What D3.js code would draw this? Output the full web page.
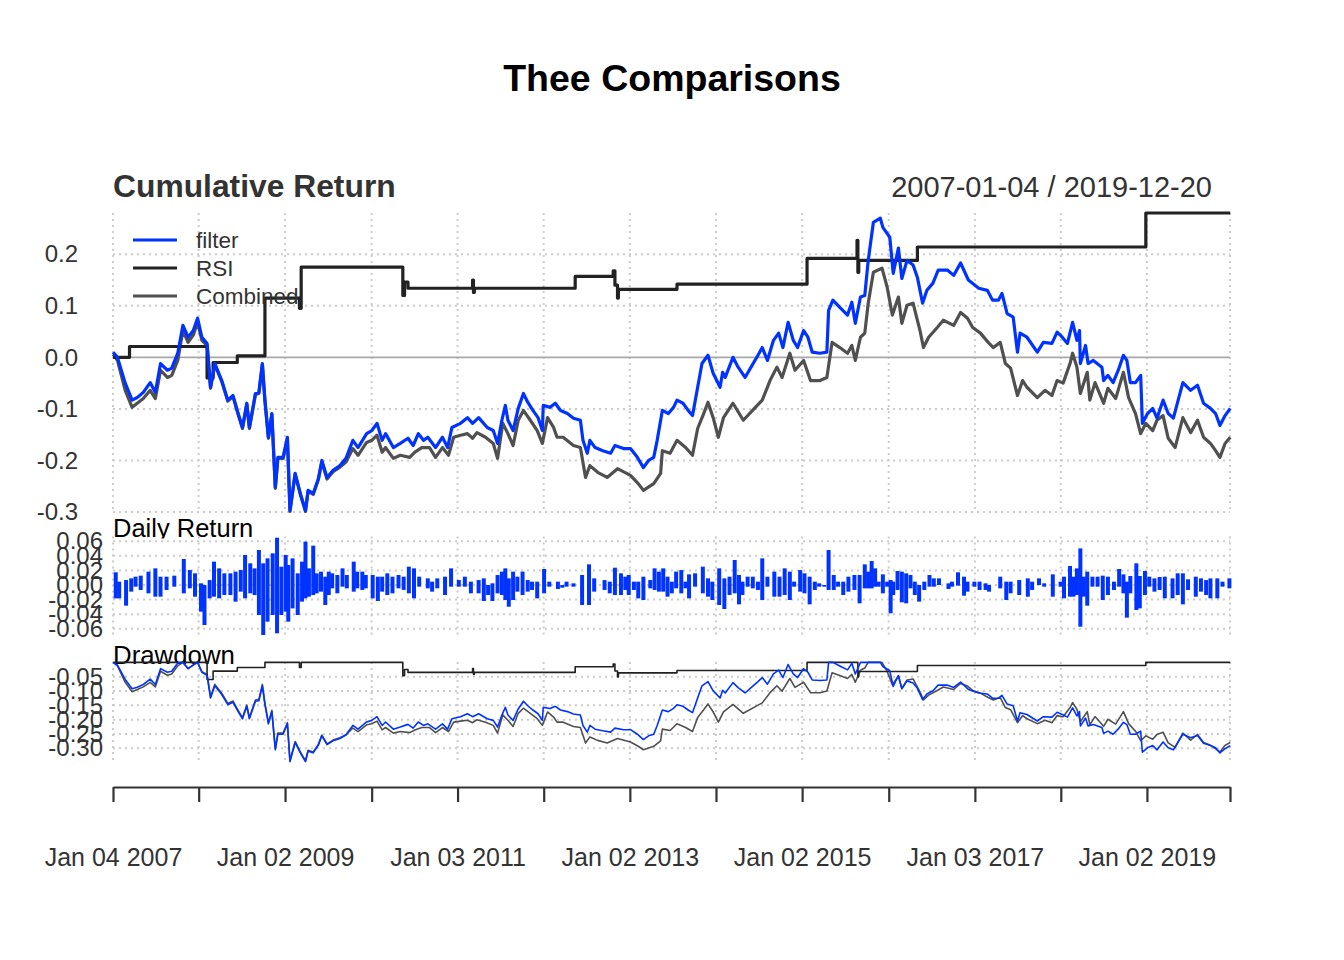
<!DOCTYPE html>
<html><head><meta charset="utf-8">
<script src="https://cdn.jsdelivr.net/npm/d3@7"></script>
<style>
body{margin:0;background:#fff}
svg{display:block}
text{font-family:"Liberation Sans",Arial,Helvetica,sans-serif}
</style>
</head><body>
<svg id="c" width="1344" height="960"></svg>
<script>
// ---------------- DATA ----------------
const chartTitle = "Thee Comparisons";
const seriesNames = ["filter", "RSI", "Combined"];
const seriesColors = ["#0033FF", "#222222", "#505050"];
const startDate = "2007-01-04", endDate = "2019-12-20";
const tickDates = ["2007-01-04","2008-01-02","2009-01-02","2010-01-04","2011-01-03","2012-01-03","2013-01-02","2014-01-02","2015-01-02","2016-01-04","2017-01-03","2018-01-02","2019-01-02","2019-12-20"];
const tickLabels = ["Jan 04 2007","","Jan 02 2009","","Jan 03 2011","","Jan 02 2013","","Jan 02 2015","","Jan 03 2017","","Jan 02 2019",""];
const cumTicks = [0.2, 0.1, 0.0, -0.1, -0.2, -0.3];
const dailyTicks = [0.06, 0.04, 0.02, 0.00, -0.02, -0.04, -0.06];
const ddTicks = [-0.05, -0.10, -0.15, -0.20, -0.25, -0.30];

// cumulative returns [decimal year, value]
const filterCum = [[2007.01,0.010],[2007.06,0.000],[2007.15,-0.050],[2007.23,-0.083],[2007.29,-0.078],[2007.36,-0.068],[2007.44,-0.049],[2007.50,-0.068],[2007.56,-0.012],[2007.64,-0.025],[2007.69,-0.021],[2007.76,0.008],[2007.82,0.062],[2007.88,0.039],[2007.94,0.052],[2007.99,0.076],[2008.04,0.039],[2008.10,0.027],[2008.14,-0.058],[2008.19,-0.012],[2008.27,-0.045],[2008.34,-0.083],[2008.40,-0.074],[2008.46,-0.109],[2008.51,-0.136],[2008.56,-0.089],[2008.59,-0.136],[2008.66,-0.070],[2008.70,-0.068],[2008.74,-0.012],[2008.77,-0.083],[2008.81,-0.155],[2008.85,-0.109],[2008.89,-0.252],[2008.92,-0.194],[2008.98,-0.194],[2009.03,-0.155],[2009.06,-0.297],[2009.12,-0.225],[2009.18,-0.264],[2009.24,-0.297],[2009.27,-0.258],[2009.33,-0.264],[2009.39,-0.235],[2009.43,-0.200],[2009.49,-0.233],[2009.56,-0.219],[2009.64,-0.210],[2009.71,-0.196],[2009.79,-0.161],[2009.85,-0.175],[2009.95,-0.148],[2010.01,-0.142],[2010.07,-0.128],[2010.13,-0.161],[2010.17,-0.148],[2010.26,-0.175],[2010.34,-0.167],[2010.43,-0.157],[2010.49,-0.171],[2010.55,-0.148],[2010.61,-0.161],[2010.66,-0.155],[2010.75,-0.175],[2010.83,-0.155],[2010.89,-0.175],[2010.94,-0.136],[2011.04,-0.128],[2011.12,-0.117],[2011.18,-0.128],[2011.25,-0.117],[2011.35,-0.136],[2011.42,-0.142],[2011.47,-0.167],[2011.52,-0.122],[2011.56,-0.093],[2011.59,-0.122],[2011.65,-0.142],[2011.71,-0.099],[2011.77,-0.070],[2011.82,-0.087],[2011.88,-0.103],[2011.94,-0.117],[2011.99,-0.142],[2012.00,-0.093],[2012.08,-0.097],[2012.14,-0.089],[2012.20,-0.103],[2012.28,-0.109],[2012.35,-0.118],[2012.43,-0.122],[2012.46,-0.161],[2012.51,-0.186],[2012.54,-0.161],[2012.60,-0.175],[2012.69,-0.181],[2012.78,-0.186],[2012.83,-0.171],[2012.93,-0.177],[2013.01,-0.177],[2013.09,-0.194],[2013.16,-0.214],[2013.22,-0.200],[2013.28,-0.194],[2013.32,-0.161],[2013.38,-0.103],[2013.45,-0.109],[2013.51,-0.097],[2013.55,-0.083],[2013.62,-0.089],[2013.68,-0.103],[2013.73,-0.113],[2013.79,-0.058],[2013.84,-0.012],[2013.91,0.004],[2013.97,-0.031],[2014.05,-0.058],[2014.08,-0.029],[2014.11,-0.039],[2014.20,0.000],[2014.26,-0.019],[2014.34,-0.039],[2014.42,-0.016],[2014.49,0.004],[2014.54,0.019],[2014.60,-0.006],[2014.67,0.033],[2014.73,0.047],[2014.78,0.019],[2014.84,0.068],[2014.90,0.033],[2014.95,0.019],[2015.02,0.052],[2015.07,0.039],[2015.12,0.010],[2015.21,0.008],[2015.29,0.010],[2015.31,0.091],[2015.36,0.111],[2015.44,0.097],[2015.53,0.082],[2015.58,0.107],[2015.62,0.066],[2015.68,0.117],[2015.73,0.120],[2015.77,0.188],[2015.83,0.262],[2015.91,0.270],[2015.94,0.252],[2016.02,0.233],[2016.06,0.163],[2016.12,0.212],[2016.16,0.153],[2016.22,0.188],[2016.29,0.179],[2016.34,0.155],[2016.40,0.105],[2016.45,0.130],[2016.52,0.144],[2016.58,0.169],[2016.69,0.169],[2016.76,0.159],[2016.84,0.183],[2016.93,0.150],[2017.05,0.134],[2017.15,0.130],[2017.21,0.111],[2017.28,0.111],[2017.32,0.124],[2017.38,0.085],[2017.45,0.078],[2017.50,0.010],[2017.53,0.047],[2017.61,0.039],[2017.73,0.010],[2017.80,0.029],[2017.90,0.027],[2017.96,0.049],[2018.02,0.039],[2018.08,0.027],[2018.14,0.068],[2018.19,0.033],[2018.22,0.052],[2018.23,-0.012],[2018.29,0.023],[2018.32,-0.012],[2018.38,-0.006],[2018.48,-0.019],[2018.50,-0.045],[2018.55,-0.035],[2018.61,-0.049],[2018.67,-0.025],[2018.73,0.004],[2018.77,-0.006],[2018.81,-0.049],[2018.87,-0.049],[2018.93,-0.035],[2018.95,-0.128],[2019.01,-0.109],[2019.07,-0.099],[2019.12,-0.118],[2019.19,-0.083],[2019.25,-0.109],[2019.31,-0.118],[2019.37,-0.080],[2019.42,-0.049],[2019.51,-0.064],[2019.59,-0.054],[2019.66,-0.089],[2019.74,-0.099],[2019.80,-0.109],[2019.85,-0.132],[2019.91,-0.113],[2019.97,-0.099]];

const rsiCum = [[2007.01,0.000],[2007.20,0.021],[2008.10,-0.040],[2008.17,-0.010],[2008.45,0.003],[2008.77,0.115],[2009.17,0.095],[2009.19,0.175],[2010.37,0.120],[2010.39,0.146],[2010.43,0.134],[2011.18,0.150],[2011.19,0.126],[2011.20,0.134],[2012.37,0.157],[2012.81,0.168],[2012.83,0.140],[2012.86,0.115],[2012.87,0.132],[2013.55,0.142],[2015.06,0.192],[2015.64,0.227],[2015.65,0.165],[2015.66,0.188],[2016.34,0.214],[2018.99,0.280],[2019.97,0.280]];

const combinedCum = [[2007.01,0.006],[2007.06,-0.006],[2007.15,-0.064],[2007.23,-0.097],[2007.29,-0.089],[2007.36,-0.080],[2007.44,-0.064],[2007.50,-0.080],[2007.56,-0.025],[2007.64,-0.039],[2007.69,-0.035],[2007.76,-0.006],[2007.82,0.052],[2007.88,0.029],[2007.94,0.043],[2007.99,0.068],[2008.04,0.033],[2008.10,0.023],[2008.14,-0.060],[2008.19,-0.014],[2008.27,-0.047],[2008.34,-0.085],[2008.40,-0.076],[2008.46,-0.111],[2008.51,-0.138],[2008.56,-0.091],[2008.59,-0.138],[2008.66,-0.072],[2008.70,-0.070],[2008.74,-0.014],[2008.77,-0.085],[2008.81,-0.157],[2008.85,-0.111],[2008.89,-0.254],[2008.92,-0.196],[2008.98,-0.196],[2009.03,-0.157],[2009.06,-0.299],[2009.12,-0.227],[2009.18,-0.266],[2009.24,-0.299],[2009.27,-0.260],[2009.33,-0.266],[2009.39,-0.237],[2009.43,-0.203],[2009.49,-0.236],[2009.56,-0.222],[2009.64,-0.213],[2009.71,-0.203],[2009.79,-0.177],[2009.85,-0.190],[2009.95,-0.165],[2010.01,-0.161],[2010.07,-0.151],[2010.13,-0.184],[2010.17,-0.175],[2010.26,-0.196],[2010.34,-0.190],[2010.45,-0.194],[2010.51,-0.184],[2010.59,-0.175],[2010.68,-0.175],[2010.75,-0.194],[2010.83,-0.175],[2010.90,-0.190],[2010.96,-0.155],[2011.04,-0.151],[2011.12,-0.148],[2011.18,-0.157],[2011.23,-0.146],[2011.33,-0.155],[2011.42,-0.167],[2011.47,-0.196],[2011.53,-0.128],[2011.59,-0.148],[2011.65,-0.171],[2011.71,-0.122],[2011.77,-0.103],[2011.85,-0.122],[2011.93,-0.142],[2011.99,-0.167],[2012.05,-0.117],[2012.12,-0.136],[2012.16,-0.155],[2012.23,-0.155],[2012.35,-0.171],[2012.43,-0.175],[2012.49,-0.233],[2012.54,-0.210],[2012.63,-0.223],[2012.74,-0.233],[2012.86,-0.216],[2013.01,-0.229],[2013.10,-0.245],[2013.16,-0.258],[2013.28,-0.245],[2013.36,-0.225],[2013.38,-0.181],[2013.47,-0.186],[2013.55,-0.161],[2013.65,-0.175],[2013.73,-0.190],[2013.79,-0.138],[2013.86,-0.109],[2013.91,-0.087],[2013.97,-0.117],[2014.03,-0.155],[2014.09,-0.117],[2014.20,-0.089],[2014.32,-0.122],[2014.46,-0.097],[2014.54,-0.083],[2014.63,-0.045],[2014.71,-0.019],[2014.77,-0.039],[2014.86,0.008],[2014.92,-0.025],[2015.02,-0.006],[2015.10,-0.045],[2015.21,-0.045],[2015.29,-0.039],[2015.35,0.029],[2015.44,0.019],[2015.53,0.008],[2015.58,0.023],[2015.62,-0.006],[2015.68,0.039],[2015.73,0.047],[2015.77,0.105],[2015.83,0.165],[2015.93,0.173],[2015.99,0.136],[2016.05,0.082],[2016.12,0.117],[2016.16,0.066],[2016.22,0.101],[2016.29,0.105],[2016.37,0.052],[2016.41,0.019],[2016.47,0.039],[2016.57,0.058],[2016.64,0.072],[2016.76,0.062],[2016.84,0.087],[2016.92,0.076],[2016.98,0.058],[2017.07,0.047],[2017.16,0.029],[2017.22,0.019],[2017.30,0.029],[2017.36,-0.012],[2017.42,-0.021],[2017.50,-0.074],[2017.56,-0.045],[2017.61,-0.058],[2017.73,-0.078],[2017.82,-0.064],[2017.90,-0.074],[2017.96,-0.045],[2018.03,-0.050],[2018.11,-0.012],[2018.14,0.008],[2018.19,-0.019],[2018.23,-0.070],[2018.31,-0.029],[2018.34,-0.083],[2018.40,-0.049],[2018.50,-0.089],[2018.55,-0.060],[2018.64,-0.080],[2018.73,-0.029],[2018.79,-0.078],[2018.87,-0.109],[2018.93,-0.148],[2018.99,-0.128],[2019.07,-0.142],[2019.12,-0.122],[2019.19,-0.113],[2019.25,-0.157],[2019.33,-0.175],[2019.42,-0.117],[2019.51,-0.146],[2019.59,-0.122],[2019.66,-0.155],[2019.74,-0.167],[2019.80,-0.181],[2019.85,-0.194],[2019.91,-0.167],[2019.97,-0.155]];

// daily returns of filter: [decimal year, highest, lowest] per short interval
const dailyReturn = [[2007.04,.0174,-.0183],[2007.08,.0046,-.0183],[2007.16,.0068,-.0283],[2007.22,.0091,-.0091],[2007.27,.0114,-.0023],[2007.33,.0128,-.0068],[2007.42,.0183,-.0114],[2007.50,.0228,-.0160],[2007.56,.0114,-.0160],[2007.63,.0114,-.0068],[2007.72,.0128,-.0023],[2007.83,.0356,-.0114],[2007.90,.0205,-.0046],[2007.96,.0160,-.0160],[2008.03,.0023,-.0365],[2008.07,0,-.0548],[2008.13,.0068,-.0183],[2008.18,.0320,-.0160],[2008.24,.0228,-.0183],[2008.30,.0160,-.0137],[2008.37,.0160,-.0137],[2008.43,.0183,-.0228],[2008.49,.0205,-.0091],[2008.54,.0411,-.0183],[2008.60,.0297,-.0114],[2008.65,.0228,-.0137],[2008.70,.0479,-.0411],[2008.75,.0297,-.0685],[2008.80,.0365,-.0502],[2008.86,.0434,-.0411],[2008.91,.0648,-.0662],[2008.96,.0251,-.0411],[2009.01,.0411,-.0365],[2009.04,.0274,-.0502],[2009.09,.0365,-.0320],[2009.15,.0160,-.0411],[2009.20,.0320,-.0228],[2009.24,.0594,-.0183],[2009.28,.0228,-.0160],[2009.33,.0539,-.0137],[2009.37,.0160,-.0114],[2009.42,.0183,-.0091],[2009.47,.0114,-.0274],[2009.51,.0183,-.0137],[2009.55,.0160,-.0046],[2009.61,.0137,-.0114],[2009.67,.0228,-.0023],[2009.72,.0137,-.0046],[2009.80,.0320,-.0091],[2009.84,.0183,-.0046],[2009.90,.0183,-.0068],[2009.94,.0137,-.0046],[2010.02,.0137,-.0183],[2010.08,.0114,-.0219],[2010.13,.0114,-.0091],[2010.19,.0160,-.0137],[2010.25,.0114,-.0114],[2010.32,.0137,-.0046],[2010.38,.0114,-.0068],[2010.44,.0251,-.0114],[2010.50,.0228,-.0183],[2010.56,.0114,-.0023],[2010.66,.0091,-.0046],[2010.71,.0046,-.0091],[2010.77,.0091,-.0046],[2010.86,.0114,-.0137],[2010.93,.0228,-.0023],[2011.02,.0068,-.0023],[2011.09,.0114,-.0023],[2011.16,.0046,-.0114],[2011.25,.0068,-.0114],[2011.31,.0091,-.0219],[2011.36,0,-.0137],[2011.41,.0023,-.0219],[2011.47,.0137,-.0114],[2011.52,.0183,-.0137],[2011.56,.0228,-.0205],[2011.60,.0091,-.0297],[2011.65,.0183,-.0205],[2011.70,.0114,-.0091],[2011.76,.0183,-.0137],[2011.82,.0068,-.0091],[2011.87,.0046,-.0068],[2011.93,.0046,-.0183],[2012.01,.0219,-.0114],[2012.07,.0046,-.0023],[2012.17,.0046,-.0055],[2012.22,0,-.0037],[2012.27,.0046,-.0023],[2012.35,.0023,-.0023],[2012.45,.0137,-.0274],[2012.53,.0283,-.0274],[2012.59,.0091,-.0091],[2012.71,.0068,-.0068],[2012.77,.0046,-.0114],[2012.83,.0237,-.0137],[2012.90,.0160,-.0137],[2012.95,.0114,-.0068],[2012.99,.0137,-.0137],[2013.05,.0046,-.0068],[2013.10,.0046,-.0183],[2013.16,.0114,-.0205],[2013.24,.0068,-.0046],[2013.29,.0228,-.0068],[2013.34,.0183,-.0091],[2013.39,.0228,-.0091],[2013.44,.0114,-.0160],[2013.49,.0046,-.0114],[2013.54,.0183,-.0046],[2013.60,.0205,-.0114],[2013.65,.0046,-.0046],[2013.69,.0146,-.0183],[2013.76,.0160,-.0023],[2013.85,.0251,-.0114],[2013.91,.0091,-.0160],[2013.96,.0046,-.0205],[2014.04,.0228,-.0274],[2014.10,.0091,-.0329],[2014.16,.0114,-.0137],[2014.22,.0342,-.0114],[2014.27,.0137,-.0265],[2014.31,.0046,-.0137],[2014.37,.0114,-.0023],[2014.43,.0114,-.0046],[2014.49,.0046,-.0068],[2014.54,.0365,-.0205],[2014.60,.0114,-.0023],[2014.68,.0183,-.0160],[2014.74,.0114,-.0160],[2014.80,.0228,-.0137],[2014.86,.0183,-.0205],[2014.91,.0046,-.0023],[2014.98,.0205,-.0091],[2015.03,.0160,-.0114],[2015.09,.0114,-.0265],[2015.15,.0046,-.0068],[2015.20,.0023,-.0023],[2015.26,0,-.0023],[2015.31,.0479,-.0068],[2015.37,.0137,-.0068],[2015.42,.0046,-.0023],[2015.48,.0046,-.0137],[2015.54,.0114,-.0091],[2015.61,.0137,-.0068],[2015.67,.0137,-.0251],[2015.73,.0283,-.0046],[2015.77,.0183,-.0046],[2015.81,.0329,-.0046],[2015.85,.0228,-.0023],[2015.89,.0046,-.0023],[2015.94,.0146,-.0114],[2015.99,.0046,-.0023],[2016.03,.0068,-.0388],[2016.06,.0046,-.0137],[2016.11,.0192,-.0068],[2016.16,.0183,-.0237],[2016.21,.0160,-.0251],[2016.26,.0137,-.0046],[2016.31,.0046,-.0137],[2016.36,0,-.0228],[2016.42,.0046,-.0068],[2016.48,.0137,-.0023],[2016.53,.0091,-.0023],[2016.59,.0091,0],[2016.70,.0023,-.0055],[2016.74,.0046,-.0023],[2016.81,.0174,-.0009],[2016.88,.0114,-.0146],[2016.92,.0046,-.0091],[2017.00,.0046,-.0023],[2017.06,.0046,-.0068],[2017.13,.0023,-.0068],[2017.17,0,-.0091],[2017.30,.0114,-.0046],[2017.37,.0046,-.0205],[2017.42,.0046,-.0114],[2017.52,.0068,-.0137],[2017.62,.0091,-.0160],[2017.67,.0046,-.0068],[2017.75,.0091,0],[2017.81,.0023,-.0023],[2017.91,.0146,-.0160],[2018.00,.0046,-.0023],[2018.04,.0114,-.0183],[2018.11,.0260,-.0160],[2018.15,.0114,-.0160],[2018.19,.0228,-.0137],[2018.23,.0502,-.0571],[2018.27,.0114,-.0160],[2018.31,.0183,-.0283],[2018.37,.0114,-.0023],[2018.43,.0114,-.0023],[2018.49,.0128,-.0205],[2018.55,.0114,-.0137],[2018.62,.0046,-.0068],[2018.68,.0219,-.0023],[2018.73,.0146,-.0114],[2018.77,.0046,-.0447],[2018.81,.0123,-.0114],[2018.88,.0297,-.0342],[2018.92,.0123,-.0320],[2018.98,.0192,-.0137],[2019.03,.0114,-.0023],[2019.09,.0091,-.0091],[2019.15,.0110,-.0068],[2019.21,.0114,-.0183],[2019.30,.0091,-.0183],[2019.36,.0160,-.0137],[2019.42,.0160,-.0265],[2019.48,.0078,-.0068],[2019.57,.0114,-.0160],[2019.63,.0091,-.0091],[2019.69,.0068,-.0137],[2019.74,.0091,-.0183],[2019.82,.0091,-.0183],[2019.88,.0046,-.0023],[2019.96,.0091,-.0046]];

// ---------------- DRAWING ----------------
const svg = d3.select("#c");
const parseDate = d3.utcParse("%Y-%m-%d");
const yearToDate = y => { const yr = Math.floor(y); const a = Date.UTC(yr,0,1), b = Date.UTC(yr+1,0,1); return new Date(a + (y-yr)*(b-a)); };

const X0 = 113, X1 = 1230;
const x = d3.scaleTime().domain([parseDate(startDate), parseDate(endDate)]).range([X0, X1]);
const yCum = d3.scaleLinear().domain([-0.3, 0.28]).range([512, 213]);
const yDay = d3.scaleLinear().domain([-0.069, 0.066]).range([635.4, 536.8]);
const yDD = d3.scaleLinear().domain([-0.348, 0]).range([762, 662.4]);

const gridColor = "#CCCCCC";
function vGrid(yTop, yBot){
  svg.append("g").selectAll("line").data(tickDates).join("line")
    .attr("x1", d => x(parseDate(d))).attr("x2", d => x(parseDate(d)))
    .attr("y1", yTop).attr("y2", yBot)
    .attr("stroke", gridColor).attr("stroke-width", 2).attr("stroke-dasharray", "2,4");
}
function hGrid(scale, vals){
  svg.append("g").selectAll("line").data(vals).join("line")
    .attr("x1", X0).attr("x2", X1)
    .attr("y1", d => scale(d)).attr("y2", d => scale(d))
    .attr("stroke", gridColor).attr("stroke-width", 2).attr("stroke-dasharray", "2,4");
}
function yAxis(scale, vals, fmt, pad){
  const g = svg.append("g").attr("transform", `translate(${X0},0)`)
    .call(d3.axisLeft(scale).tickValues(vals).tickFormat(fmt).tickSize(0).tickPadding(pad));
  g.select(".domain").remove();
  g.selectAll("text").attr("font-size", 24).attr("fill", "#333")
    .attr("font-family", '"Liberation Sans",Arial,sans-serif');
}

// Title & headers
svg.append("text").attr("x", 672).attr("y", 91).attr("text-anchor", "middle")
  .attr("font-size", 37.5).attr("font-weight", "bold").attr("fill", "#000").text(chartTitle);
svg.append("text").attr("x", 113).attr("y", 197)
  .attr("font-size", 31.8).attr("font-weight", "bold").attr("fill", "#333").text("Cumulative Return");
svg.append("text").attr("x", 1212).attr("y", 197).attr("text-anchor", "end")
  .attr("font-size", 29).attr("fill", "#333").text(startDate + " / " + endDate);

// ---- Panel 1: cumulative
vGrid(213, 512);
hGrid(yCum, cumTicks.filter(v => v !== 0));
svg.append("line").attr("x1", X0).attr("x2", X1).attr("y1", yCum(0)).attr("y2", yCum(0))
  .attr("stroke", "#A8A8A8").attr("stroke-width", 1.6);
yAxis(yCum, cumTicks, d => d.toFixed(1), 35);

const toPts = arr => arr.map(d => [yearToDate(d[0]), d[1]]);
const cumSeries = [toPts(filterCum), toPts(rsiCum), toPts(combinedCum)];
const curves = [d3.curveLinear, d3.curveStepAfter, d3.curveLinear];

function lineGen(scale, curve){
  return d3.line().x(d => x(d[0])).y(d => scale(d[1])).curve(curve);
}
// draw in reverse order so first column sits on top
[2,1,0].forEach(i => {
  svg.append("path").datum(cumSeries[i]).attr("d", lineGen(yCum, curves[i]))
    .attr("fill", "none").attr("stroke", seriesColors[i]).attr("stroke-width", 3.2)
    .attr("stroke-linejoin", "round");
});

// legend
const lg = svg.append("g");
seriesNames.forEach((n, i) => {
  const yy = 240 + i * 28;
  lg.append("line").attr("x1", 133).attr("x2", 177).attr("y1", yy).attr("y2", yy)
    .attr("stroke", seriesColors[i]).attr("stroke-width", 3.2);
  lg.append("text").attr("x", 196).attr("y", yy).attr("dy", "0.36em")
    .attr("font-size", 22.5).attr("fill", "#333").text(n);
});

// ---- Panel 2: daily returns
vGrid(536.5, 636);
hGrid(yDay, dailyTicks);
yAxis(yDay, dailyTicks, d => d.toFixed(2), 10);
svg.append("g").selectAll("line").data(dailyReturn).join("line")
  .attr("x1", d => x(yearToDate(d[0]))).attr("x2", d => x(yearToDate(d[0])))
  .attr("y1", d => yDay(d[2])).attr("y2", d => yDay(d[1]))
  .attr("stroke", seriesColors[0]).attr("stroke-width", 4);
svg.append("clipPath").attr("id", "drClip").append("rect")
  .attr("x", 0).attr("y", 500).attr("width", 400).attr("height", 38.5);
svg.append("text").attr("x", 113).attr("y", 537).attr("clip-path", "url(#drClip)")
  .attr("font-size", 25.5).attr("fill", "#000").text("Daily Return");

// ---- Panel 3: drawdown
vGrid(662, 764);
hGrid(yDD, ddTicks);
yAxis(yDD, ddTicks, d => d.toFixed(2), 10);
function drawdown(pts){
  let peak = 1;
  return pts.map(d => { const w = 1 + d[1]; peak = Math.max(peak, w); return [d[0], w / peak - 1]; });
}
const ddSeries = cumSeries.map(drawdown);
svg.append("text").attr("x", 113).attr("y", 664)
  .attr("font-size", 25.8).attr("fill", "#000").text("Drawdown");
[2,1,0].forEach(i => {
  svg.append("path").datum(ddSeries[i]).attr("d", lineGen(yDD, curves[i]))
    .attr("fill", "none").attr("stroke", seriesColors[i]).attr("stroke-width", 1.6)
    .attr("stroke-linejoin", "round");
});

// ---- X axis
const xa = svg.append("g").attr("transform", "translate(0,787)")
  .call(d3.axisBottom(x).tickValues(tickDates.map(parseDate))
    .tickFormat((d, i) => tickLabels[i]).tickSize(15).tickSizeOuter(0).tickPadding(46));
xa.select(".domain").attr("stroke", "#333").attr("stroke-width", 2.2);
xa.selectAll(".tick line").attr("stroke", "#333").attr("stroke-width", 2.2);
xa.selectAll("text").attr("font-size", 25).attr("fill", "#333")
  .attr("font-family", '"Liberation Sans",Arial,sans-serif');
</script>
</body></html>
